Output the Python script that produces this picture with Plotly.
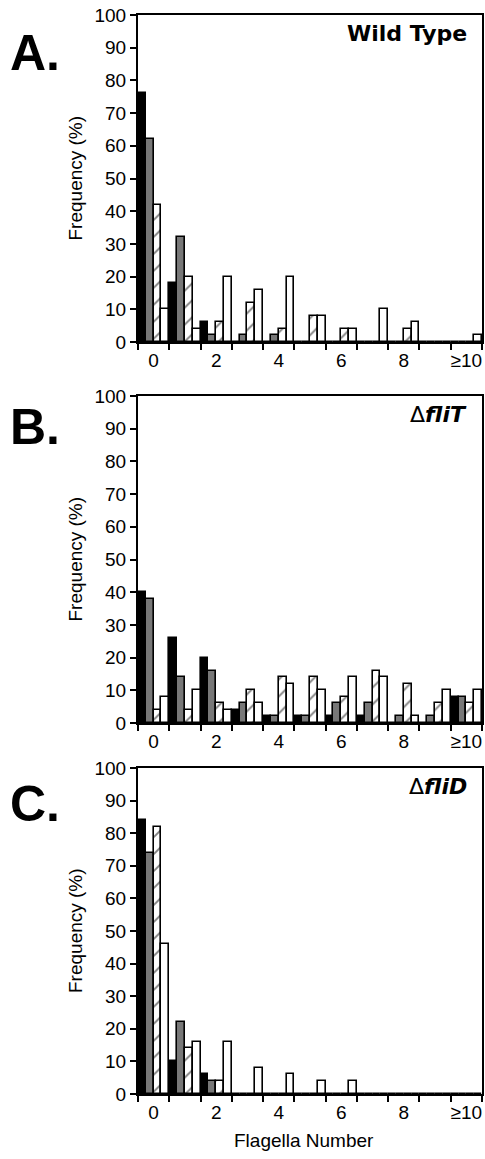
import plotly.graph_objects as go

# Flagella-number bins
categories = ["0", "1", "2", "3", "4", "5", "6", "7", "8", "9", "≥10"]
tick_text = ["0", "", "2", "", "4", "", "6", "", "8", "", "≥10"]

# Panel A: wild type (frequency, %)
wt_black = [76, 18, 6, 0, 0, 0, 0, 0, 0, 0, 0]
wt_gray = [62, 32, 2, 2, 2, 0, 0, 0, 0, 0, 0]
wt_hatch = [42, 20, 6, 12, 4, 8, 4, 0, 4, 0, 0]
wt_white = [10, 4, 20, 16, 20, 8, 4, 10, 6, 0, 2]

# Panel B: fliT deletion
flit_black = [40, 26, 20, 4, 2, 2, 2, 2, 0, 0, 8]
flit_gray = [38, 14, 16, 6, 2, 2, 6, 6, 2, 2, 8]
flit_hatch = [4, 4, 6, 10, 14, 14, 8, 16, 12, 6, 6]
flit_white = [8, 10, 4, 6, 12, 10, 14, 14, 2, 10, 10]

# Panel C: fliD deletion
flid_black = [84, 10, 6, 0, 0, 0, 0, 0, 0, 0, 0]
flid_gray = [74, 22, 4, 0, 0, 0, 0, 0, 0, 0, 0]
flid_hatch = [82, 14, 4, 0, 0, 0, 0, 0, 0, 0, 0]
flid_white = [46, 16, 16, 8, 6, 4, 4, 0, 0, 0, 0]

panels = [
    ("A.", "<b>Wild Type</b>", [wt_black, wt_gray, wt_hatch, wt_white]),
    ("B.", "Δ<b><i>fliT</i></b>", [flit_black, flit_gray, flit_hatch, flit_white]),
    ("C.", "Δ<b><i>fliD</i></b>", [flid_black, flid_gray, flid_hatch, flid_white]),
]

W, H = 485, 1159
ML, MR, MT, MB = 138, 3, 15, 65
PW = W - ML - MR
PH = H - MT - MB
# vertical extents of each panel in pixels (top, bottom)
panel_px = [(15, 342), (396, 723), (768, 1094)]
letter_offset = [38, 31, 36]

FONT = "Liberation Sans, Arial, sans-serif"

styles = [
    dict(color="black"),
    dict(color="#787878"),
    dict(color="white", pattern=dict(shape="/", size=12, solidity=0.16,
                                     fgcolor="black", bgcolor="white",
                                     fillmode="overlay")),
    dict(color="white"),
]

fig = go.Figure()
layout = dict(
    width=W, height=H,
    margin=dict(l=ML, r=MR, t=MT, b=MB),
    paper_bgcolor="white", plot_bgcolor="white",
    barmode="group", bargap=0, bargroupgap=0,
    showlegend=False,
    font=dict(family=FONT, size=19, color="black"),
)
annotations = []

for i, (letter, name, series) in enumerate(panels):
    n = "" if i == 0 else str(i + 1)
    xdom = ("x" + n + " domain") if n else "x domain"
    ydom = ("y" + n + " domain") if n else "y domain"
    top, bot = panel_px[i]
    d0 = (H - MB - bot) / PH
    d1 = (H - MB - top) / PH
    for vals, st in zip(series, styles):
        fig.add_trace(go.Bar(
            x=categories, y=vals, xaxis="x" + n, yaxis="y" + n,
            marker=dict(line=dict(color="black", width=1.6), **st),
            width=0.25,
        ))
    layout["xaxis" + n] = dict(
        type="category", categoryorder="array", categoryarray=categories,
        tickmode="array", tickvals=categories, ticktext=tick_text,
        tickangle=0, automargin=False,
        tickson="boundaries", ticks="outside", ticklen=6, tickwidth=2,
        tickcolor="black", showline=True, linecolor="black", linewidth=2,
        mirror=True, showgrid=False, zeroline=False,
        range=[-0.5, 10.5], anchor="y" + n,
        tickfont=dict(family=FONT, size=19, color="black"),
    )
    layout["yaxis" + n] = dict(
        range=[0, 100], tickmode="linear", tick0=0, dtick=10,
        ticks="outside", ticklen=6, tickwidth=2, tickcolor="black",
        showline=True, linecolor="black", linewidth=2, mirror=True,
        showgrid=False, zeroline=False, domain=[d0, d1], anchor="x" + n,
        automargin=False,
        tickfont=dict(family=FONT, size=19, color="black"),
    )
    # y-axis title
    annotations.append(dict(
        text="Frequency (%)", textangle=-90, showarrow=False,
        xref="paper", yref=ydom,
        x=(75 - ML) / PW, y=0.5, xanchor="center", yanchor="middle",
        font=dict(family=FONT, size=19, color="black"),
    ))
    # panel letter
    annotations.append(dict(
        text="<b>" + letter + "</b>", showarrow=False,
        xref="paper", yref=ydom,
        x=(35 - ML) / PW, y=1 - letter_offset[i] / (bot - top),
        xanchor="center", yanchor="middle",
        font=dict(family=FONT, size=50, color="black"),
    ))
    # strain name
    annotations.append(dict(
        text=name, showarrow=False,
        xref=xdom, yref=ydom,
        x=(469 - ML) / PW, y=1 - 18 / (bot - top),
        xanchor="right", yanchor="middle",
        font=dict(family="DejaVu Sans, sans-serif", size=22, color="black"),
    ))

annotations.append(dict(
    text="Flagella Number", showarrow=False,
    xref="paper", yref="paper",
    x=(304 - ML) / PW, y=-(1140 - (H - MB)) / PH,
    xanchor="center", yanchor="middle",
    font=dict(family=FONT, size=19, color="black"),
))

layout["annotations"] = annotations
fig.update_layout(**layout)
fig.write_html("out.html")
